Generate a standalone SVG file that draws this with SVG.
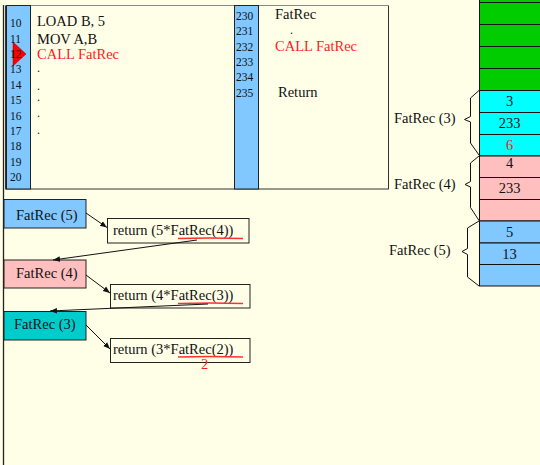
<svg xmlns="http://www.w3.org/2000/svg" width="540" height="465" viewBox="0 0 540 465">
<defs>
<style>
text{font-family:"Liberation Serif","Times New Roman",serif;fill:#111}
.num{font-size:11.5px}
.code{font-size:14.5px}
.dot{font-size:12px}
.red{fill:#ff1a1a}
.lbl{font-size:14.5px}
.cell{font-size:14.5px;text-anchor:middle}
.cellr{stroke:#111;stroke-width:1}
.box{stroke:#222;stroke-width:1}
.con{stroke:#111;stroke-width:1;fill:none;marker-end:url(#ah)}
.ul{stroke:#ff3030;stroke-width:1.3;fill:none}
.brace{stroke:#111;stroke-width:1;fill:none}
</style>
<marker id="ah" viewBox="0 0 10 10" refX="10" refY="5" markerWidth="7" markerHeight="7" orient="auto" markerUnits="userSpaceOnUse">
<path d="M0,1 L10,5 L0,9 z" fill="#111"/>
</marker>
</defs>
<rect x="0" y="0" width="540" height="465" fill="#ffffe8"/>
<line x1="3.5" y1="5" x2="3.5" y2="465" stroke="#222" stroke-width="1.3"/>

<g id="program">
<rect x="5.5" y="5.5" width="383" height="183.5" fill="#ffffe8" stroke="#333" stroke-width="1"/>
<line x1="5" y1="5.5" x2="389" y2="5.5" stroke="#888" stroke-width="1"/>
<rect x="6.5" y="5.5" width="24" height="183.5" fill="#80c8ff" stroke="#222" stroke-width="1"/>
<rect x="234.5" y="5.5" width="24" height="183.5" fill="#80c8ff" stroke="#222" stroke-width="1"/>
<polygon points="13,42 26,54 13,66" fill="#ff0000" stroke="#900" stroke-width="0.5"/>
<g class="num">
<text x="10" y="27.3">10</text>
<text x="10" y="42.7">11</text>
<text x="10" y="58">12</text>
<text x="10" y="73.4">13</text>
<text x="10" y="88.8">14</text>
<text x="10" y="104.2">15</text>
<text x="10" y="119.5">16</text>
<text x="10" y="134.9">17</text>
<text x="10" y="150.3">18</text>
<text x="10" y="165.6">19</text>
<text x="10" y="181">20</text>
<text x="236" y="20">230</text>
<text x="236" y="35.3">231</text>
<text x="236" y="50.7">232</text>
<text x="236" y="66">233</text>
<text x="236" y="81.4">234</text>
<text x="236" y="96.7">235</text>
</g>
<g class="code">
<text x="37" y="25.5">LOAD B, 5</text>
<text x="37" y="43.7">MOV A,B</text>
<text x="37" y="59" class="red">CALL FatRec</text>
<text x="275" y="19">FatRec</text>
<text x="275" y="51" class="red">CALL FatRec</text>
<text x="278" y="96.7">Return</text>
</g>
<g class="code dot">
<text x="37" y="72">.</text>
<text x="37" y="89.5">.</text>
<text x="37" y="100.5">.</text>
<text x="37" y="117">.</text>
<text x="37" y="133.5">.</text>
<text x="290" y="34">.</text>
</g>
</g>

<g id="stack">
<rect class="cellr" x="479.5" y="-20" width="70" height="22.5" fill="#00cc00"/>
<rect class="cellr" x="479.5" y="2.5" width="70" height="22" fill="#00cc00"/>
<rect class="cellr" x="479.5" y="24.5" width="70" height="22" fill="#00cc00"/>
<rect class="cellr" x="479.5" y="46.5" width="70" height="22" fill="#00cc00"/>
<rect class="cellr" x="479.5" y="68.5" width="70" height="22" fill="#00cc00"/>
<rect class="cellr" x="479.5" y="90.5" width="70" height="22" fill="#00ffff"/>
<rect class="cellr" x="479.5" y="112.5" width="70" height="22" fill="#00ffff"/>
<rect class="cellr" x="479.5" y="134.5" width="70" height="21.5" fill="#00ffff"/>
<rect class="cellr" x="479.5" y="156" width="70" height="21.5" fill="#ffbfbf"/>
<rect class="cellr" x="479.5" y="177.5" width="70" height="22" fill="#ffbfbf"/>
<rect class="cellr" x="479.5" y="199.5" width="70" height="21.5" fill="#ffbfbf"/>
<rect class="cellr" x="479.5" y="221" width="70" height="22" fill="#80c8ff"/>
<rect class="cellr" x="479.5" y="243" width="70" height="21.5" fill="#80c8ff"/>
<rect class="cellr" x="479.5" y="264.5" width="70" height="21.5" fill="#80c8ff"/>
<text class="cell" x="509.5" y="106">3</text>
<text class="cell" x="509.5" y="128.3">233</text>
<text class="cell red" x="509.5" y="150">6</text>
<text class="cell" x="509.5" y="168">4</text>
<text class="cell" x="509.5" y="193.3">233</text>
<text class="cell" x="509.5" y="237.3">5</text>
<text class="cell" x="509.5" y="259.3">13</text>
</g>

<g id="frame3">
<path class="brace" d="M479,90.5 L470.5,98 L470.5,116.5 L464.5,119.5 L470.5,122 L470.5,143 L479,155"/>
<text class="lbl" x="394" y="123">FatRec (3)</text>
</g>
<g id="frame4">
<path class="brace" d="M479,156 L470.5,163 L470.5,181.5 L465,184.5 L470.5,187 L470.5,207.5 L479,220.5"/>
<text class="lbl" x="394" y="189">FatRec (4)</text>
</g>
<g id="frame5">
<path class="brace" d="M479,221 L467.5,228 L467.5,248.5 L462,251.5 L467.5,254.5 L467.5,277 L479,286"/>
<text class="lbl" x="389" y="255">FatRec (5)</text>
</g>

<g id="call5">
<rect class="box" x="4" y="199.5" width="82" height="28.5" fill="#80c8ff"/>
<text class="lbl" x="16" y="220">FatRec (5)</text>
</g>
<g id="ret5">
<rect class="box" x="107.5" y="218.5" width="141.5" height="24.5" fill="#ffffe8"/>
<text class="lbl" x="113" y="235">return (5*FatRec(4))</text>
<path class="ul" d="M178,238.5 Q210,237.5 243,238.5"/>
</g>
<g id="call4">
<rect class="box" x="4" y="260" width="82" height="28" fill="#ffbfbf"/>
<text class="lbl" x="16" y="278.3">FatRec (4)</text>
</g>
<g id="ret4">
<rect class="box" x="110.5" y="284.5" width="139.5" height="23.5" fill="#ffffe8"/>
<text class="lbl" x="113" y="300">return (4*FatRec(3))</text>
<path class="ul" d="M178,303.5 Q210,302.5 243,303.5"/>
</g>
<g id="call3">
<rect class="box" x="4" y="311.5" width="82" height="28.5" fill="#00cccc"/>
<text class="lbl" x="14" y="329.3">FatRec (3)</text>
</g>
<g id="ret3">
<rect class="box" x="110.5" y="338.5" width="139.5" height="24" fill="#ffffe8"/>
<text class="lbl" x="113" y="354">return (3*FatRec(2))</text>
<path class="ul" d="M178,357 Q210,356 243,357"/>
<text class="lbl red" x="201" y="368.5">2</text>
</g>

<g id="connectors">
<line class="con" x1="86" y1="213" x2="107" y2="227.5"/>
<line class="con" x1="197" y1="240" x2="53" y2="260"/>
<line class="con" x1="86" y1="275" x2="110" y2="293"/>
<line class="con" x1="208" y1="304" x2="50" y2="311"/>
<line class="con" x1="86" y1="325" x2="110" y2="349"/>
</g>
</svg>
